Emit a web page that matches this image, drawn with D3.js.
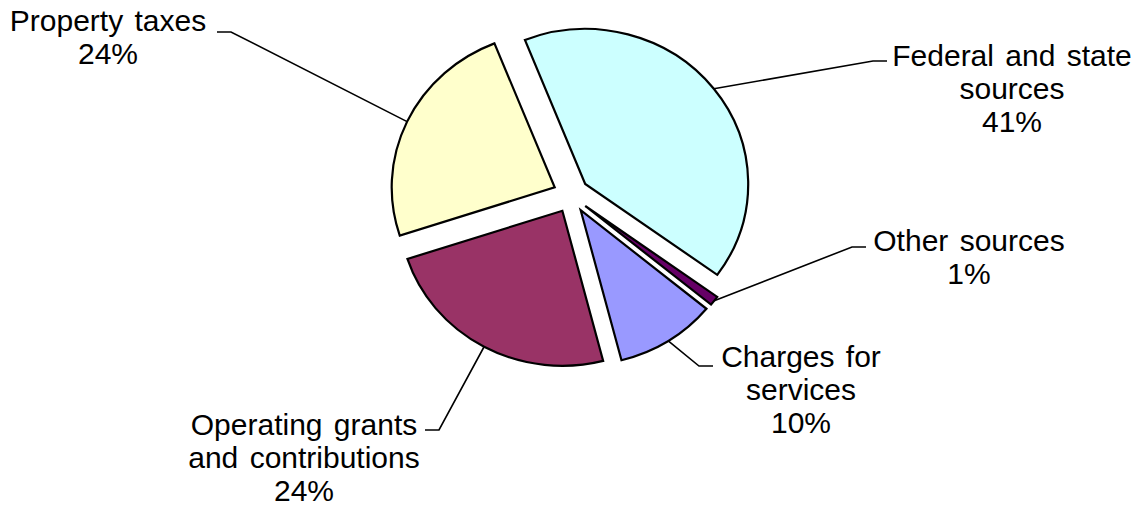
<!DOCTYPE html>
<html>
<head>
<meta charset="utf-8">
<script src="https://cdn.jsdelivr.net/npm/d3@7"></script>
<style>
  html, body { margin: 0; padding: 0; background: #fff; }
  svg { display: block; }
  .label { font-family: "Liberation Sans", Arial, sans-serif; font-size: 30px; word-spacing: 3px; fill: #000; }
  .leader { fill: none; stroke: #000; stroke-width: 1.6; }
</style>
</head>
<body>
<div id="chart"></div>
<script>
// Daten
const categories = ["Federal and state sources", "Other sources", "Charges for services", "Operating grants and contributions", "Property taxes"];
const shares = [41, 1, 10, 24, 24];
const labelLines = [["Federal and state", "sources"], ["Other sources"], ["Charges for", "services"], ["Operating grants", "and contributions"], ["Property taxes"]];
const colors = ["#CCFFFF", "#660066", "#9999FF", "#993366", "#FFFFCC"];

// Layout der Beschriftungen (Mitte x, erste Grundlinie y, Ende des Führungsstrichs)
const labelPos = [
    { x: 1012, y: 66, tx: 887, ty: 61, dir: -1 },
    { x: 969, y: 251, tx: 866, ty: 247, dir: -1 },
    { x: 801, y: 367, tx: 713, ty: 366, dir: -1 },
    { x: 304, y: 435, tx: 425, ty: 430, dir: 1 },
    { x: 108, y: 31, tx: 217, ty: 32, dir: 1 }
];

const width = 1142, height = 506;
const cx = 571, cy = 195;
const rx = 163, ry = 155;
const explode = 18;
const lineH = 33;

const svg = d3.select("#chart").append("svg")
    .attr("width", width)
    .attr("height", height);

const data = categories.map((c, i) => ({ name: c, value: shares[i], i }));

const pie = d3.pie()
    .sort(null)
    .value(d => d.value)
    .startAngle(-21.7 * Math.PI / 180)
    .endAngle((360 - 21.7) * Math.PI / 180);

const arcs = pie(data);
const arc = d3.arc().innerRadius(0).outerRadius(rx);

// Ellipse: in y gestaucht
const pieG = svg.append("g")
    .attr("transform", `translate(${cx},${cy}) scale(1,${ry / rx})`);

pieG.selectAll("path")
    .data(arcs)
    .join("path")
    .attr("d", arc)
    .attr("transform", d => {
        const a = (d.startAngle + d.endAngle) / 2;
        return `translate(${Math.sin(a) * explode},${-Math.cos(a) * explode * rx / ry})`;
    })
    .attr("fill", d => colors[d.data.i])
    .attr("stroke", "#000")
    .attr("stroke-width", 2.2)
    .attr("vector-effect", "non-scaling-stroke");

// Führungslinien
const lines = svg.append("g");
arcs.forEach(d => {
    const a = (d.startAngle + d.endAngle) / 2;
    const sx = cx + Math.sin(a) * (rx + explode);
    const sy = cy - Math.cos(a) * (ry + explode);
    const p = labelPos[d.data.i];
    const ex = p.tx + p.dir * 14;
    lines.append("path")
        .attr("class", "leader")
        .attr("d", d3.line()([[sx, sy], [ex, p.ty], [p.tx, p.ty]]));
});

// Beschriftungen
const labels = svg.append("g");
arcs.forEach(d => {
    const p = labelPos[d.data.i];
    const txt = labelLines[d.data.i].concat([`${d.data.value}%`]);
    const t = labels.append("text")
        .attr("class", "label")
        .attr("text-anchor", "middle");
    txt.forEach((s, k) => {
        t.append("tspan")
            .attr("x", p.x)
            .attr("y", p.y + k * lineH)
            .text(s);
    });
});
</script>
</body>
</html>
